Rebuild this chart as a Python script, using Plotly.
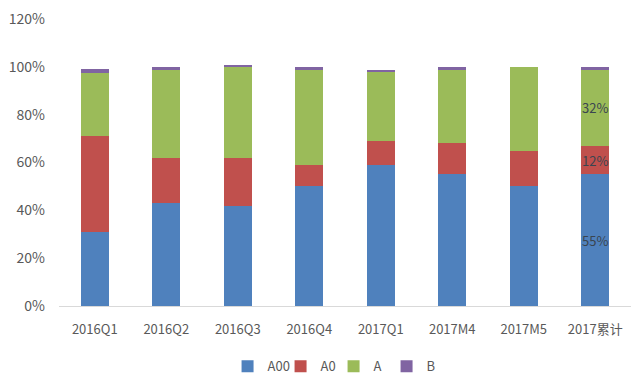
import plotly.graph_objects as go

categories = ["2016Q1", "2016Q2", "2016Q3", "2016Q4", "2017Q1", "2017M4", "2017M5", "2017累计"]
a00 = [0.31, 0.43, 0.42, 0.50, 0.59, 0.55, 0.50, 0.55]
a0 = [0.40, 0.19, 0.20, 0.09, 0.10, 0.13, 0.15, 0.12]
a = [0.265, 0.37, 0.38, 0.40, 0.29, 0.31, 0.35, 0.32]
b = [0.015, 0.008, 0.008, 0.008, 0.008, 0.008, 0.0, 0.008]
label_idx = 7

series = [
    ("A00", a00, "#4F81BD"),
    ("A0", a0, "#C0504D"),
    ("A", a, "#9BBB59"),
    ("B", b, "#8064A2"),
]

fig = go.Figure()
for name, vals, color in series:
    texts = ["" for _ in vals]
    if name != "B":
        texts[label_idx] = f"{round(vals[label_idx]*100)}%"
    fig.add_trace(go.Bar(
        x=categories, y=vals, name=name,
        marker=dict(color=color, line=dict(width=0)),
        text=texts, textposition="inside", insidetextanchor="middle", textangle=0,
        constraintext="none",
        textfont=dict(color="#3A4550", size=13, family="Noto Sans CJK SC"),
        hoverinfo="skip",
    ))

# page body has an 8px margin: shrink the figure so it fits the 640x383 window
fig.update_layout(
    barmode="stack",
    bargap=0.61,
    width=624, height=367,
    margin=dict(l=51, r=1, t=11, b=69, autoexpand=False),
    plot_bgcolor="white", paper_bgcolor="white",
    font=dict(family="Noto Sans CJK SC", size=13, color="#595959"),
    showlegend=True,
    legend=dict(orientation="h", x=0.48, xanchor="center", y=-0.21, yanchor="middle",
                font=dict(size=13, color="#595959"), itemwidth=30, traceorder="normal",
                entrywidth=8, entrywidthmode="pixels"),
)
fig.update_yaxes(range=[0, 1.2], tickvals=[0, 0.2, 0.4, 0.6, 0.8, 1.0, 1.2],
                 ticktext=["0%", "20%", "40%", "60%", "80%", "100%", "120%"],
                 showgrid=False, zeroline=False, showline=False, ticks="",
                 tickfont=dict(size=14), ticklabelstandoff=13, ticklabeloverflow="allow")
fig.update_xaxes(showgrid=False, showline=True, linecolor="#D9D9D9", linewidth=1,
                 ticks="", tickangle=0, ticklabelstandoff=11, ticklabeloverflow="allow")

fig.write_html("out.html")
